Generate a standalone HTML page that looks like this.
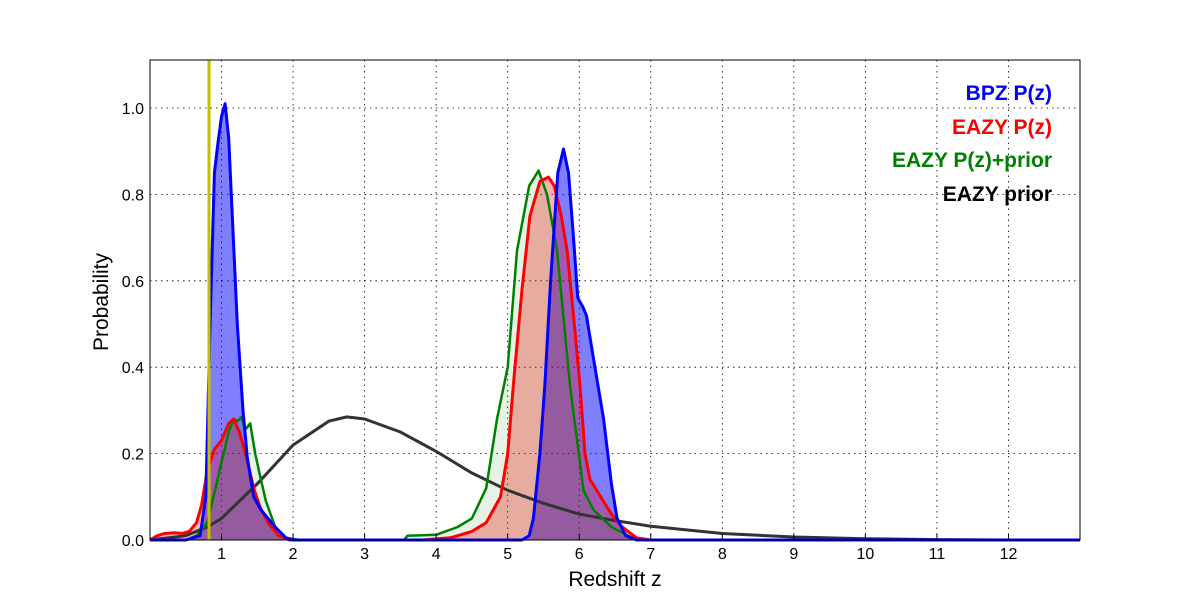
<!DOCTYPE html>
<html><head><meta charset="utf-8"><style>
body{margin:0;background:#fff;font-family:"Liberation Sans",sans-serif}
svg{display:block}
</style></head><body>
<svg id="chart" width="1200" height="600">
<g id="grid"></g>
<g id="fills"></g>
<g id="lines"></g>
<rect x="150" y="60" width="930" height="480" fill="none" stroke="#000" stroke-width="1"/>
<g id="ticks"></g>
<text x="615" y="586" font-size="21" text-anchor="middle">Redshift z</text>
<text x="108" y="302" font-size="21" text-anchor="middle" transform="rotate(-90 108 302)">Probability</text>
<g font-size="21" font-weight="bold" text-anchor="end">
<text x="1052" y="100" fill="#0000ff">BPZ P(z)</text>
<text x="1052" y="134" fill="#ff0000">EAZY P(z)</text>
<text x="1052" y="167" fill="#008000">EAZY P(z)+prior</text>
<text x="1052" y="201" fill="#000">EAZY prior</text>
</g>
</svg>
<script>
const xTicks=[1,2,3,4,5,6,7,8,9,10,11,12];
const yTicks=[0,0.2,0.4,0.6,0.8,1.0];
const yTickLabels=["0.0","0.2","0.4","0.6","0.8","1.0"];
const markerZ=0.825;
const bpzZ=[0,0.5,0.7,0.78,0.84,0.9,0.95,1.0,1.05,1.1,1.15,1.22,1.3,1.36,1.45,1.55,1.65,1.75,1.9,2.0,5.2,5.3,5.36,5.45,5.52,5.6,5.7,5.78,5.85,5.92,5.98,6.05,6.1,6.2,6.34,6.45,6.53,6.65,6.8,13];
const bpzP=[0,0,0.01,0.1,0.5,0.85,0.92,0.98,1.01,0.93,0.75,0.5,0.3,0.19,0.1,0.07,0.05,0.03,0.005,0,0,0.01,0.05,0.2,0.36,0.6,0.85,0.905,0.85,0.7,0.56,0.54,0.52,0.42,0.28,0.13,0.05,0.01,0,0];
const eazyZ=[0,0.1,0.2,0.35,0.45,0.55,0.65,0.72,0.8,0.9,1.0,1.1,1.17,1.25,1.35,1.45,1.54,1.65,1.8,1.95,3.8,4.2,4.5,4.7,4.9,5.0,5.08,5.2,5.31,5.45,5.57,5.65,5.75,5.83,5.92,6.01,6.08,6.15,6.3,6.45,6.6,6.8,7.0,13];
const eazyP=[0,0.01,0.015,0.017,0.015,0.02,0.04,0.08,0.16,0.21,0.23,0.27,0.28,0.25,0.19,0.12,0.075,0.04,0.01,0,0,0.005,0.02,0.04,0.1,0.2,0.36,0.58,0.75,0.83,0.84,0.82,0.75,0.67,0.52,0.36,0.2,0.14,0.1,0.06,0.03,0.005,0,0];
const priorPzZ=[0,0.5,0.65,0.8,0.93,1.0,1.1,1.17,1.22,1.28,1.33,1.4,1.47,1.55,1.62,1.75,1.9,2.1,3.55,3.6,4.0,4.3,4.5,4.7,4.85,5.0,5.13,5.3,5.43,5.55,5.69,5.87,6.06,6.2,6.45,6.8,13];
const priorPzP=[0,0,0.01,0.04,0.13,0.18,0.25,0.28,0.275,0.285,0.255,0.27,0.2,0.14,0.09,0.03,0.005,0,0,0.01,0.012,0.03,0.05,0.12,0.28,0.4,0.67,0.82,0.855,0.8,0.67,0.36,0.115,0.07,0.03,0,0];
const priorZ=[0,0.5,0.8,1.0,1.5,2.0,2.5,2.75,3.0,3.5,4.0,4.5,5.0,5.5,6.0,6.5,7.0,8.0,9.0,10,11,12];
const priorP=[0,0.01,0.03,0.05,0.13,0.22,0.275,0.285,0.28,0.25,0.205,0.155,0.115,0.085,0.06,0.045,0.032,0.015,0.007,0.003,0.001,0];

const X=z=>150+z*930/13, Y=p=>540-p*432;
const NS="http://www.w3.org/2000/svg";
function mk(parent,tag,attrs){const e=document.createElementNS(NS,tag);for(const k in attrs)e.setAttribute(k,attrs[k]);document.getElementById(parent).appendChild(e);return e;}
const grid="grid",ticks="ticks";
xTicks.forEach(t=>{
  const l=mk(grid,"line",{x1:X(t),x2:X(t),y1:60,y2:540,stroke:"#000","stroke-width":0.8,"stroke-dasharray":"1.5,4"});
  
  
  const m=mk(ticks,"line",{x1:X(t),x2:X(t),y1:540,y2:534,stroke:"#000"});
  
  
  const tx=mk(ticks,"text",{x:X(t),y:559,"font-size":16,"text-anchor":"middle"});tx.textContent=t;
  
  
});
yTicks.forEach((t,i)=>{
  const l=mk(grid,"line",{x1:150,x2:1080,y1:Y(t),y2:Y(t),stroke:"#000","stroke-width":0.8,"stroke-dasharray":"1.5,4"});
  
  
  const tx=mk(ticks,"text",{x:144,y:Y(t)+6,"font-size":16,"text-anchor":"end"});tx.textContent=yTickLabels[i];
  
  
});
function pts(zs,ps){return zs.map((z,i)=>X(z).toFixed(1)+","+Y(ps[i]).toFixed(1)).join(" ");}
function area(zs,ps){return "M"+X(zs[0])+","+Y(0)+" L"+pts(zs,ps)+" L"+X(zs[zs.length-1])+","+Y(0)+"Z";}
let f;
f=mk("fills","path",{d:area(bpzZ,bpzP),fill:"rgba(0,0,255,0.5)"});


f=mk("fills","path",{d:area(eazyZ,eazyP),fill:"rgba(255,0,0,0.3)"});


f=mk("fills","path",{d:area(priorPzZ,priorPzP),fill:"rgba(0,128,0,0.1)"});


let ln;
ln=mk("lines","polyline",{points:pts(priorZ,priorP),fill:"none",stroke:"#333","stroke-width":3});


ln=mk("lines","polyline",{points:pts(priorPzZ,priorPzP),fill:"none",stroke:"#008000","stroke-width":2.5,"stroke-linejoin":"round"});


ln=mk("lines","polyline",{points:pts(eazyZ,eazyP),fill:"none",stroke:"#ff0000","stroke-width":3,"stroke-linejoin":"round"});


ln=mk("lines","polyline",{points:pts(bpzZ,bpzP),fill:"none",stroke:"#0000ff","stroke-width":3,"stroke-linejoin":"round"});


ln=mk("lines","line",{x1:X(markerZ),x2:X(markerZ),y1:60,y2:540,stroke:"#c0c000","stroke-width":3});


</script>
</body></html>
